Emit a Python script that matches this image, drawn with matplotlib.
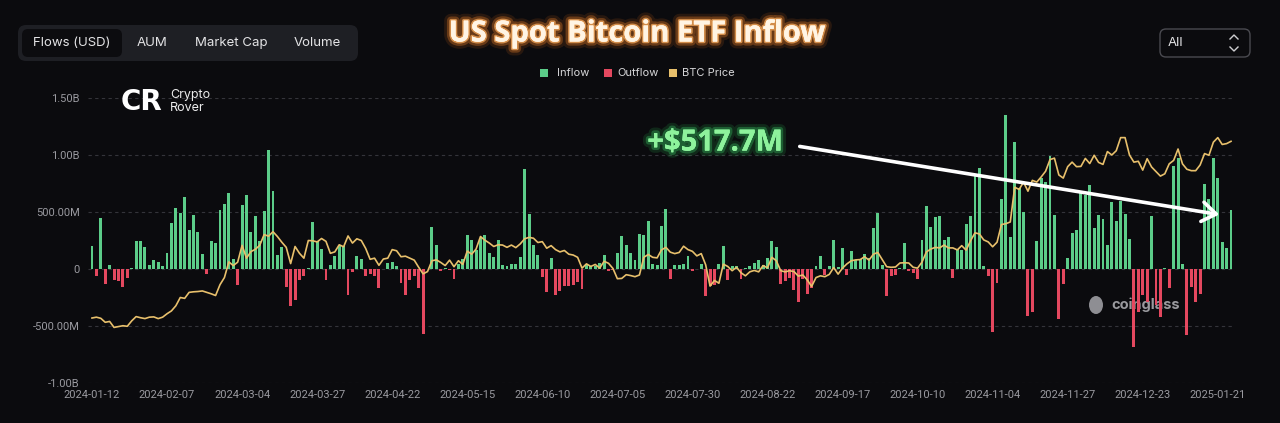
import matplotlib.pyplot as plt
import matplotlib.patheffects as pe
from matplotlib.patches import FancyBboxPatch, Rectangle, FancyArrowPatch, Ellipse
import numpy as np

# daily net flows, USD millions (trading days 2024-01-12 .. 2025-01-24)
flows = [
    200, -58, 447, -131, 35, -93, -108, -160, -82, 9,
    248, 242, 193, 35, 76, 61, 29, 140, 403, 534,
    490, 631, 339, 473, 324, 131, -44, 248, 228, 520,
    572, 666, 90, -143, 558, 645, 327, 467, 248, 505,
    1040, 680, 126, 193, -160, -327, -269, -93, -58, 9,
    412, 242, 178, -93, 35, 111, 213, 199, -231, -26,
    117, 88, -58, -44, -64, -166, 0, 53, 58, 23,
    -123, -225, -93, -58, -166, -566, 0, 368, 210, -20,
    9, -12, -88, 47, 90, 295, 251, 169, 272, 295,
    140, 105, 251, 38, 23, 44, 47, 105, 879, 485,
    207, 126, -70, -204, 96, -231, -196, -152, -152, -143,
    -117, -175, 38, 29, 23, 53, 126, -15, -10, 140,
    286, 213, 140, 76, 307, 295, 418, 47, 35, 374,
    526, -85, 35, 35, 47, 117, -15, 0, 47, -240,
    -152, -137, 44, 199, -93, 23, 29, -88, 9, 29,
    53, 82, 35, 96, 248, 193, -128, -108, -79, -187,
    -292, -88, -216, -166, 23, 117, -50, 29, 257, 15,
    181, -55, 155, 82, 90, 131, 96, 359, 490, 38,
    -240, -58, -55, 9, 228, -20, -35, -88, 251, 549,
    368, 455, 467, 257, 283, -82, 175, 170, 394, 464,
    823, 888, 23, -58, -549, -120, 613, 1349, 283, 1115,
    712, 496, -409, -374, 245, 800, 759, 993, 473, -441,
    -131, 93, 312, 342, 677, 648, 736, 362, 473, 438,
    210, 590, 420, 599, 479, 263, -680, -374, -228, -286,
    467, -315, -418, 5, -169, 905, 970, 41, -578, -155,
    -286, -219, 745, 613, 970, 794, 239, 181, 517.7,
]

# BTC price, USD thousands, same days
btc_price = [
    42.8, 43.1, 42.7, 41.3, 41.6, 39.5, 39.8, 40.1, 39.9, 41.8,
    43.3, 42.9, 42.6, 43.1, 43.2, 42.6, 43.1, 44.3, 45.3, 47.1,
    50.0, 49.7, 51.8, 52.0, 52.1, 52.3, 51.8, 51.3, 50.7, 54.5,
    57.0, 62.5, 61.2, 62.4, 68.3, 63.8, 66.1, 66.9, 68.3, 72.1,
    71.5, 73.1, 71.4, 69.4, 67.6, 61.9, 67.9, 65.5, 63.8, 70.0,
    69.9, 69.5, 70.7, 69.7, 65.5, 66.0, 68.5, 67.8, 71.6, 69.1,
    70.6, 70.0, 67.2, 63.4, 63.8, 61.3, 63.5, 63.8, 66.8, 66.4,
    64.3, 64.5, 63.8, 63.1, 60.6, 58.3, 59.1, 62.9, 63.2, 62.3,
    61.2, 63.1, 60.8, 62.9, 61.6, 66.3, 65.2, 67.0, 71.4, 70.1,
    69.1, 67.9, 68.5, 68.4, 67.6, 68.4, 67.5, 68.8, 70.6, 71.1,
    70.8, 69.3, 69.6, 67.3, 68.2, 66.8, 66.0, 66.5, 65.2, 64.9,
    64.1, 60.3, 61.8, 60.9, 61.6, 60.3, 62.7, 62.0, 60.2, 56.6,
    56.7, 58.0, 57.7, 57.3, 57.9, 64.1, 65.1, 64.1, 63.9, 66.7,
    67.6, 65.9, 65.4, 65.8, 68.0, 66.8, 66.2, 64.6, 65.4, 61.5,
    54.0, 56.0, 55.0, 61.7, 60.9, 59.4, 60.6, 58.7, 57.6, 59.0,
    59.5, 59.0, 61.2, 60.4, 64.1, 62.9, 59.4, 59.0, 59.4, 59.1,
    57.5, 57.9, 56.2, 53.9, 57.0, 57.6, 57.3, 58.1, 60.5, 58.2,
    60.3, 61.8, 62.9, 63.2, 63.3, 64.3, 63.1, 65.2, 65.8, 63.3,
    60.8, 60.6, 60.7, 62.1, 62.2, 62.1, 60.6, 60.3, 62.4, 66.0,
    67.0, 67.6, 67.4, 68.4, 67.4, 67.4, 66.7, 68.2, 66.6, 69.9,
    72.7, 72.3, 70.2, 69.5, 67.8, 69.4, 75.6, 75.9, 76.5, 88.7,
    87.9, 90.5, 87.3, 91.1, 90.5, 92.3, 94.3, 98.4, 98.9, 93.0,
    91.9, 95.9, 97.5, 95.9, 96.0, 98.8, 97.0, 99.9, 97.4, 96.7,
    101.2, 100.0, 101.5, 106.1, 106.1, 100.0, 97.5, 97.8, 94.7, 98.7,
    95.8, 94.2, 92.6, 93.4, 96.9, 98.1, 102.1, 96.9, 95.0, 94.5,
    94.5, 96.5, 100.5, 99.9, 104.5, 106.1, 103.7, 104.0, 104.8,
]

tick_labels = ['2024-01-12', '2024-02-07', '2024-03-04', '2024-03-27', '2024-04-22',
               '2024-05-15', '2024-06-10', '2024-07-05', '2024-07-30', '2024-08-22',
               '2024-09-17', '2024-10-10', '2024-11-04', '2024-11-27', '2024-12-23',
               '2025-01-21']
y_ticks = [-1000, -500, 0, 500, 1000, 1500]
y_tick_labels = ['-1.00B', '-500.00M', '0', '500.00M', '1.00B', '1.50B']
tabs = ['Flows (USD)', 'AUM', 'Market Cap', 'Volume']

BG = '#0b0b0e'
GREEN = '#5ccd89'
RED = '#e4485f'
GOLD = '#e8c06c'
W, H = 1280, 423

fig = plt.figure(figsize=(12.8, 4.23), dpi=100, facecolor=BG)


def px_rect(x0, y0, x1, y1):
    return [x0 / W, 1 - y1 / H, (x1 - x0) / W, (y1 - y0) / H]


ax = fig.add_axes(px_rect(88, 98, 1235, 383))
ax.set_facecolor(BG)
x = np.arange(len(flows))
colors = [GREEN if v >= 0 else RED for v in flows]
ax.bar(x, flows, width=0.66, color=colors, zorder=2)
ax.set_xlim(-0.9, len(flows) - 0.1)
ax.set_ylim(-1000, 1500)
ax.set_yticks(y_ticks)
ax.set_yticklabels(y_tick_labels, family='Roboto')
ax.set_xticks(np.arange(len(tick_labels)) * 17)
ax.set_xticklabels(tick_labels, family='Roboto')
ax.tick_params(length=0, colors='#9a9aa0', labelsize=8)
ax.tick_params(axis='x', pad=5)
ax.tick_params(axis='y', pad=6)
for s in ax.spines.values():
    s.set_visible(False)
ax.grid(axis='y', color='#34343a', linestyle=(0, (3, 3)), linewidth=0.8)
ax.set_axisbelow(True)

ax2 = ax.twinx()
ax2.plot(x, btc_price, color=GOLD, lw=1.2, zorder=3)
ax2.set_ylim(20, 120)
ax2.axis('off')

# overlay in pixel coordinates for the page furniture
ov = fig.add_axes([0, 0, 1, 1], zorder=10)
ov.set_xlim(0, W)
ov.set_ylim(H, 0)
ov.axis('off')
ov.patch.set_alpha(0)

# coinglass watermark sits under the bars
ax.add_patch(Ellipse((1096, 305), 14, 18, fc='#8e8e93', ec='none', transform=ov.transData, zorder=1))
ax.text(1111, 305, 'coinglass', ha='left', va='center', fontsize=10.5, fontweight='bold',
        color='#9a9a9e', family='Inter', transform=ov.transData, zorder=1)

# tab buttons
ov.add_patch(FancyBboxPatch((18, 25), 340, 36, boxstyle='round,pad=0,rounding_size=8',
                            fc='#1e1f24', ec='none'))
ov.add_patch(FancyBboxPatch((22, 29), 100, 28, boxstyle='round,pad=0,rounding_size=6',
                            fc='#0c0c0f', ec='none'))
for label, cx in zip(tabs, [72, 152, 231, 317]):
    ov.text(cx, 43, label, ha='center', va='center', fontsize=9.5, color='#e4e4e6', family='Inter')

# "All" selector
ov.add_patch(FancyBboxPatch((1160, 29), 90, 28, boxstyle='round,pad=0,rounding_size=6',
                            fc='none', ec='#4a4a50', lw=1))
ov.text(1168, 43, 'All', ha='left', va='center', fontsize=9.5, color='#e4e4e6', family='Inter')
ov.plot([1230, 1234, 1238], [39, 35, 39], color='#cfcfd2', lw=1)
ov.plot([1230, 1234, 1238], [47, 51, 47], color='#cfcfd2', lw=1)

# title with glow
glow = [pe.withStroke(linewidth=10, foreground='#ff7a1a', alpha=0.12),
        pe.withStroke(linewidth=6, foreground='#ff8a2a', alpha=0.3),
        pe.withStroke(linewidth=2.5, foreground='#ffb060', alpha=0.7),
        pe.Normal()]
ov.text(637, 34, 'US Spot Bitcoin ETF Inflow', ha='center', va='center', fontsize=21,
        fontweight='bold', color='#fff4e4', family='Open Sans', path_effects=glow)

# legend
for (lx, tx, c, lab) in [(540, 557, GREEN, 'Inflow'), (604, 617, RED, 'Outflow'),
                         (669, 682, GOLD, 'BTC Price')]:
    ov.add_patch(Rectangle((lx, 69), 8, 8, fc=c, ec='none'))
    ov.text(tx, 73, lab, ha='left', va='center', fontsize=8, color='#d6d6d8', family='Inter')

# Crypto Rover mark
ov.text(141, 102, 'CR', ha='center', va='center', fontsize=20, fontweight='heavy',
        color='white', family='DejaVu Sans')
ov.text(170, 95, 'Crypto', ha='left', va='center', fontsize=9, color='#ececec', family='Inter')
ov.text(170, 108, 'Rover', ha='left', va='center', fontsize=9, color='#ececec', family='Inter')

# annotation
green_glow = [pe.withStroke(linewidth=8, foreground='#2fd05a', alpha=0.15),
              pe.withStroke(linewidth=4, foreground='#3fe070', alpha=0.3),
              pe.Normal()]
ov.text(715, 143, '+$517.7M', ha='center', va='center', fontsize=21, fontweight='bold',
        color='#8ef29c', family='Open Sans', path_effects=green_glow)
ov.add_patch(FancyArrowPatch((797, 146), (1222, 215), arrowstyle='->,head_length=0.5,head_width=0.35',
                             mutation_scale=20, color='white', lw=2.6))

fig.savefig('out.png', dpi=100, facecolor=BG)
